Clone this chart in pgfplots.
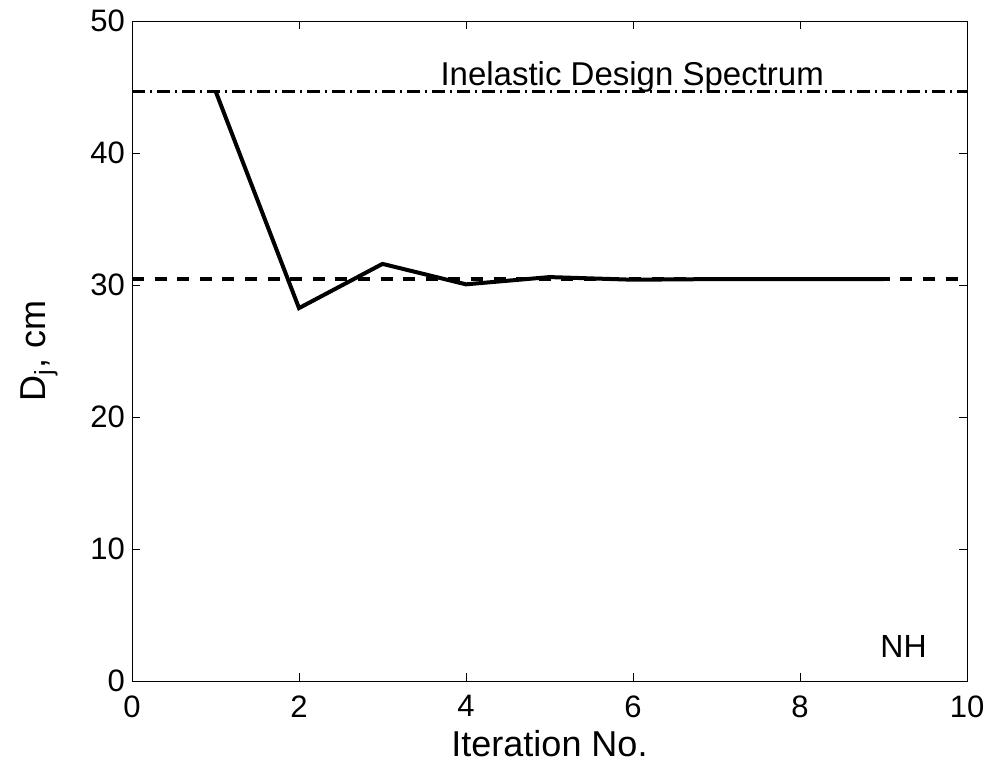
\documentclass[border=0pt]{standalone}
\usepackage{pgfplots}
\pgfplotsset{compat=1.18}
\usepackage{fontspec}
\setmainfont{Liberation Sans}

\begin{document}
\begin{tikzpicture}
\begin{axis}[
  at={(0,0)}, anchor=south west,
  scale only axis,
  width=417.5pt, height=330pt,
  xmin=0, xmax=10, ymin=0, ymax=50,
  xtick={0,2,...,10}, ytick={0,10,...,50},
  tick align=inside,
  major tick length=4pt,
  tick style={line width=0.5pt, black},
  axis line style={line width=0.5pt},
  tick label style={font=\fontsize{15.5}{18}\selectfont},
  xticklabel style={inner sep=1pt, yshift=-6pt},
  /pgf/number format/assume math mode=true,
  xlabel={Iteration No.},
  ylabel={D\textsubscript{j}, cm},
  label style={font=\fontsize{18}{21}\selectfont},
  xlabel style={at={(axis description cs:0.5,0)}, anchor=base, inner sep=0pt, yshift=-37.5pt},
  ylabel style={at={(axis description cs:0,0.5)}, anchor=base, yshift=43pt},
  clip=false,
]
% inelastic design spectrum level
\addplot[black, line width=1.8pt, dash pattern=on 6.5pt off 2.5pt on 1pt off 2.5pt]
  coordinates {(0,44.65) (10,44.65)};
% target displacement
\addplot[black, line width=1.8pt, dash pattern=on 6pt off 5.3pt]
  coordinates {(0,30.45) (10,30.45)};
% iteration history
\addplot[black, line width=2pt, line join=miter]
  coordinates {(1,44.7) (2,28.25) (3,31.6) (4,30.05) (5,30.6) (6,30.4) (7,30.45) (8,30.45) (9,30.45)};
\node[font=\fontsize{16.5}{18}\selectfont, anchor=base] at (axis cs:5.99,45.15) {Inelastic Design Spectrum};
\node[font=\fontsize{16}{18}\selectfont] at (axis cs:9.24,2.65) {NH};
\end{axis}
\path[use as bounding box] (-66pt,-40pt) rectangle (436pt,340.5pt);
\end{tikzpicture}
\end{document}
